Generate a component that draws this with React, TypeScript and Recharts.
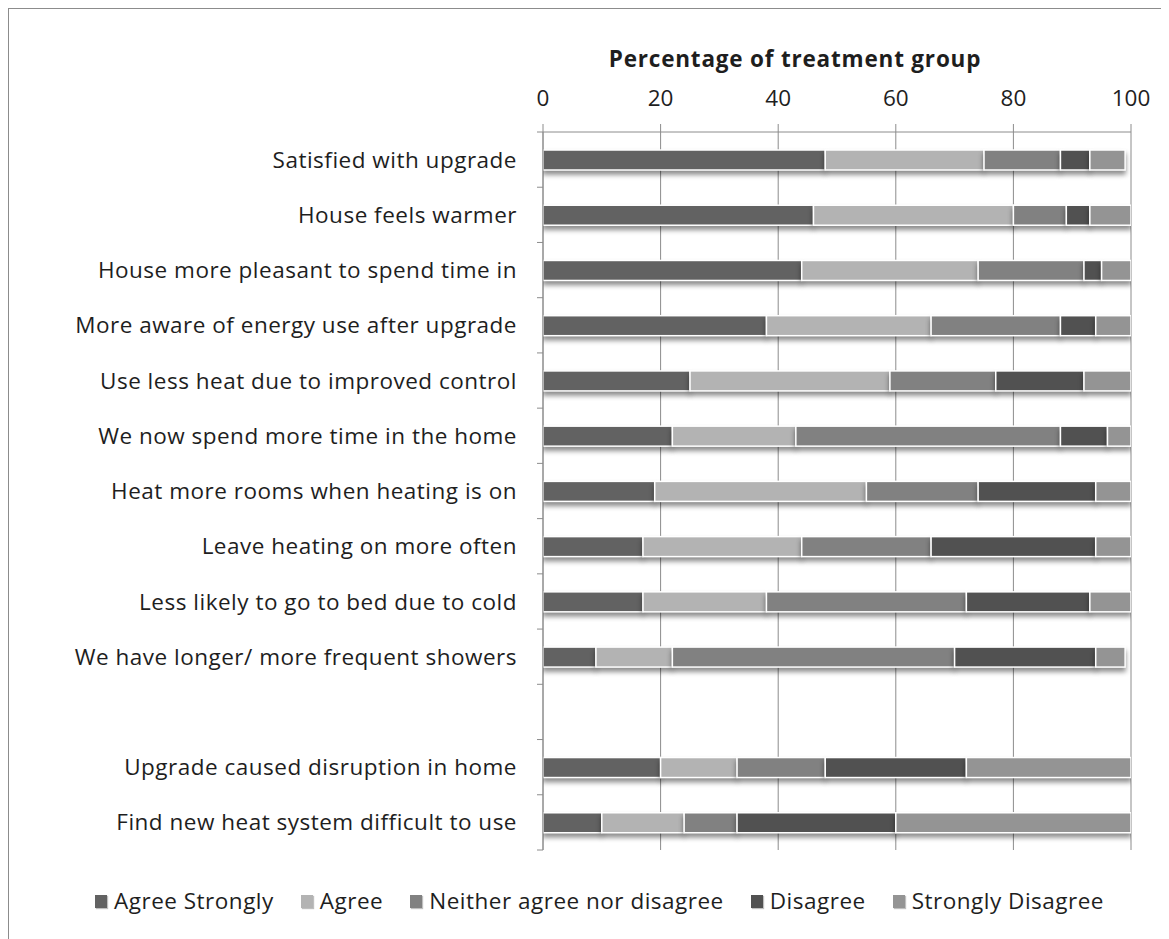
import React from 'react';
import { BarChart, Bar, XAxis, YAxis, CartesianGrid, Legend, Label } from 'recharts';

const categories = [
  'Satisfied with upgrade',
  'House feels warmer',
  'House more pleasant to spend time in',
  'More aware of energy use after upgrade ',
  'Use less heat due to improved control',
  'We now spend more time in the home',
  'Heat more rooms when heating is on ',
  'Leave heating on more often',
  'Less likely to go to bed due to cold',
  'We have longer/ more frequent showers',
  '',
  'Upgrade caused disruption in home',
  'Find new heat system difficult to use',
];

const agreeStrongly = [48, 46, 44, 38, 25, 22, 19, 17, 17, 9, null, 20, 10];
const agree = [27, 34, 30, 28, 34, 21, 36, 27, 21, 13, null, 13, 14];
const neither = [13, 9, 18, 22, 18, 45, 19, 22, 34, 48, null, 15, 9];
const disagree = [5, 4, 3, 6, 15, 8, 20, 28, 21, 24, null, 24, 27];
const stronglyDisagree = [6, 7, 5, 6, 9, 4, 7, 6, 7, 5, null, 28, 40];

const xTicks = [0, 20, 40, 60, 80, 100];

const seriesNames = ['Agree Strongly', 'Agree', 'Neither agree nor disagree', 'Disagree', 'Strongly Disagree'];
const seriesKeys = ['as', 'a', 'n', 'd', 'sd'];
const seriesColors = ['#626262', '#b3b3b3', '#818181', '#515151', '#949494'];

const data = categories.map((name, i) => ({
  name: name === '' ? ' ' : name,
  as: agreeStrongly[i],
  a: agree[i],
  n: neither[i],
  d: disagree[i],
  sd: stronglyDisagree[i],
}));

const FONT = '"Open Sans", "Noto Sans", sans-serif';
const TEXT = '#1e1e1e';
const GRID = '#8c8c8c';
const Y_TICK_SIZE = 6;
const Y_TICK_MARGIN = 20;

const YTick = (props: any) => {
  const { x, y, payload, index, visibleTicksCount } = props;
  const half = payload && payload.offset ? payload.offset : 27.6;
  const ax = x + Y_TICK_SIZE + Y_TICK_MARGIN;
  const last = visibleTicksCount ? index === visibleTicksCount - 1 : index === categories.length - 1;
  return (
    <g>
      <line x1={ax - Y_TICK_SIZE} x2={ax} y1={y - half} y2={y - half} stroke={GRID} strokeWidth={1} />
      {last && <line x1={ax - Y_TICK_SIZE} x2={ax} y1={y + half} y2={y + half} stroke={GRID} strokeWidth={1} />}
      <text
        x={x}
        y={y}
        dy="0.36em"
        textAnchor="end"
        fill={TEXT}
        fontSize={22.5}
        letterSpacing={0.5}
        fontFamily={FONT}
      >
        {payload.value}
      </text>
    </g>
  );
};

const ShadowBar = (props: any) => {
  const { x, y, width, height, fill } = props;
  if (!width || width <= 0 || !height) return null;
  return (
    <rect
      x={x}
      y={y}
      width={width}
      height={height}
      fill={fill}
      stroke="#ffffff"
      strokeWidth={1.5}
      style={{ filter: 'drop-shadow(0px 4px 2.5px rgba(0,0,0,0.45))' }}
    />
  );
};

const LegendContent = () => (
  <div
    style={{
      height: 89,
      boxSizing: 'border-box',
      paddingTop: 13,
      paddingLeft: 86,
      display: 'flex',
      alignItems: 'center',
      fontFamily: FONT,
      fontSize: 22.5,
      letterSpacing: 0.5,
      color: TEXT,
      lineHeight: '26px',
      whiteSpace: 'nowrap',
    }}
  >
    {seriesNames.map((nm, i) => (
      <div key={nm} style={{ display: 'flex', alignItems: 'center', marginRight: 27 }}>
        <span
          style={{
            display: 'inline-block',
            width: 12,
            height: 13,
            background: seriesColors[i],
            marginRight: 7,
            boxShadow: '1px 1px 1px rgba(0,0,0,0.25)',
          }}
        />
        <span>{nm}</span>
      </div>
    ))}
  </div>
);

const TitleLabel = (props: any) => {
  const vb = props.viewBox || { x: 0, y: 0, width: 0 };
  return (
    <text
      x={vb.x + vb.width / 2 - 42}
      y={vb.y - 15}
      textAnchor="middle"
      fill={TEXT}
      fontSize={22.5}
      letterSpacing={0.8}
      fontWeight="bold"
      fontFamily={FONT}
    >
      Percentage of treatment group
    </text>
  );
};

export default function App() {
  return (
    <div
      style={{
        width: 1160,
        height: 930,
        borderTop: '2px solid #8c8c8c',
        borderLeft: '2px solid #8c8c8c',
        marginLeft: -1,
        marginTop: -1,
        background: '#fff',
      }}
    >
      <BarChart
        width={1160}
        height={930}
        data={data}
        layout="vertical"
        margin={{ top: 73, right: 38, left: 0, bottom: 0 }}
        barSize={20}
      >
        <CartesianGrid horizontal={false} stroke={GRID} strokeWidth={1} />
        <XAxis
          type="number"
          orientation="top"
          domain={[0, 100]}
          ticks={xTicks}
          allowDataOverflow
          height={50}
          stroke={GRID}
          tickSize={8}
          tickMargin={18}
          tick={{ fill: TEXT, fontSize: 22.5, fontFamily: FONT }}
        >
          <Label content={<TitleLabel />} position="top" />
        </XAxis>
        <YAxis
          type="category"
          dataKey="name"
          width={534}
          stroke={GRID}
          tickLine={false}
          tickSize={Y_TICK_SIZE}
          tickMargin={Y_TICK_MARGIN}
          interval={0}
          tick={<YTick />}
        />
        <Legend verticalAlign="bottom" content={<LegendContent />} />
        {seriesKeys.map((k, i) => (
          <Bar
            key={k}
            dataKey={k}
            name={seriesNames[i]}
            stackId="s"
            fill={seriesColors[i]}
            shape={<ShadowBar />}
            isAnimationActive={false}
          />
        ))}
      </BarChart>
    </div>
  );
}
